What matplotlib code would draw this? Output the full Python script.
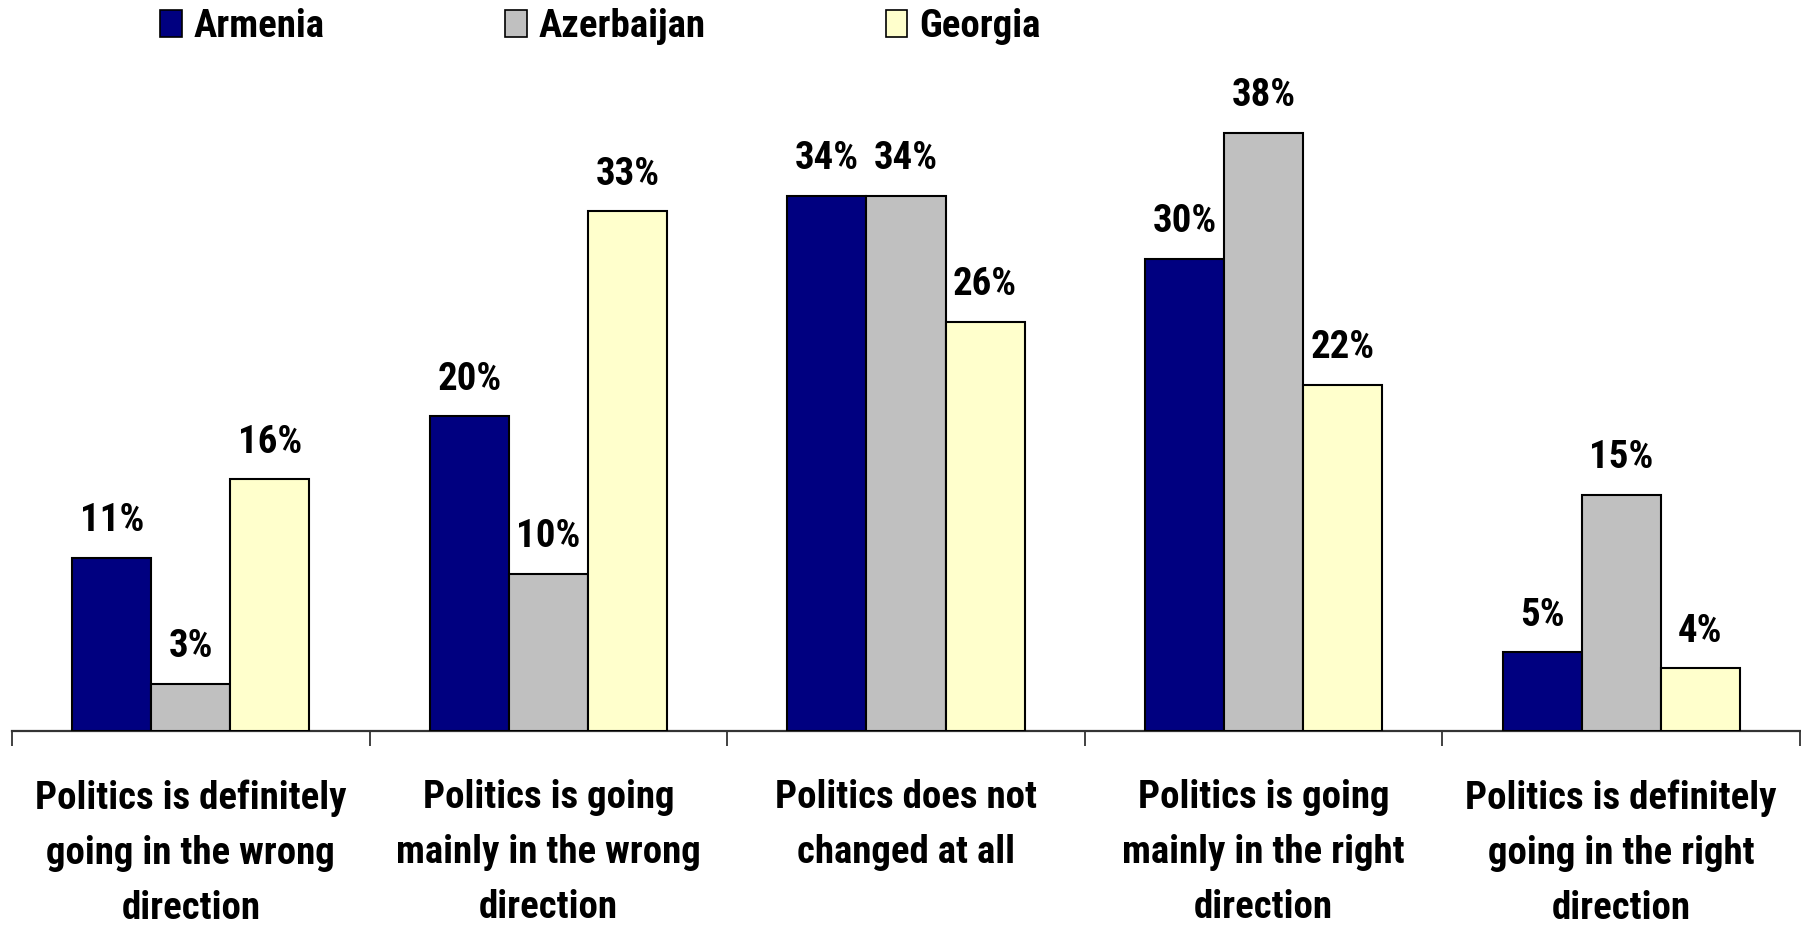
"""
Bar chart: opinion on political direction in Armenia, Azerbaijan and Georgia
"""
import matplotlib
matplotlib.use('Agg')
import matplotlib.pyplot as plt
from matplotlib.patches import Patch
from matplotlib import transforms
import numpy as np

categories = [
    "Politics is definitely\ngoing in the wrong\ndirection",
    "Politics is going\nmainly in the wrong\ndirection",
    "Politics does not\nchanged at all",
    "Politics is going\nmainly in the right\ndirection",
    "Politics is definitely\ngoing in the right\ndirection",
]
countries = ["Armenia", "Azerbaijan", "Georgia"]
armenia = [11, 20, 34, 30, 5]
azerbaijan = [3, 10, 34, 38, 15]
georgia = [16, 33, 26, 22, 4]
colors = ["#000080", "#C0C0C0", "#FFFFCC"]

plt.rcParams['font.family'] = ['Roboto Condensed', 'DejaVu Sans']
plt.rcParams['font.weight'] = 'bold'

fig = plt.figure(figsize=(18.01, 9.27), dpi=100)
ax = fig.add_axes([0.0067, 0.2114, 0.9927, 0.7136])

x = np.arange(len(categories))
width = 0.221
series = [armenia, azerbaijan, georgia]

for k, (vals, col) in enumerate(zip(series, colors)):
    pos = x + (k - 1) * width
    ax.bar(pos, vals, width=width, color=col, edgecolor='black', linewidth=1.5, zorder=3)
    for px, v in zip(pos, vals):
        ax.annotate(f"{v}%", (px, v), xytext=(0, 19), textcoords='offset points',
                    ha='center', va='baseline', fontsize=28, fontweight='bold')

ax.set_xlim(-0.5, len(categories) - 0.5)
ax.set_ylim(0, 42)

# boundaries between categories get the tick marks
ax.set_xticks(np.arange(len(categories) + 1) - 0.5)
ax.set_xticklabels([])
ax.tick_params(axis='x', length=11, width=1.3, color='#333333', direction='out')
ax.set_yticks([])

for side in ['top', 'right', 'left']:
    ax.spines[side].set_visible(False)
ax.spines['bottom'].set_linewidth(1.6)
ax.spines['bottom'].set_color('#333333')

trans = transforms.blended_transform_factory(ax.transData, ax.transAxes)
for i, lab in enumerate(categories):
    ax.text(i, -0.073, lab, transform=trans, ha='center', va='top',
            fontsize=28, fontweight='bold', linespacing=1.62)

handles = [Patch(facecolor=c, edgecolor='black', linewidth=1.2) for c in colors]
fig.legend(handles, countries, loc='center left', bbox_to_anchor=(0.089, 0.971),
           ncol=3, frameon=False, fontsize=28, handlelength=0.55, handleheight=0.7,
           handletextpad=0.3, columnspacing=4.65, borderpad=0, borderaxespad=0)

plt.savefig('out.png', dpi=100)
plt.close()
